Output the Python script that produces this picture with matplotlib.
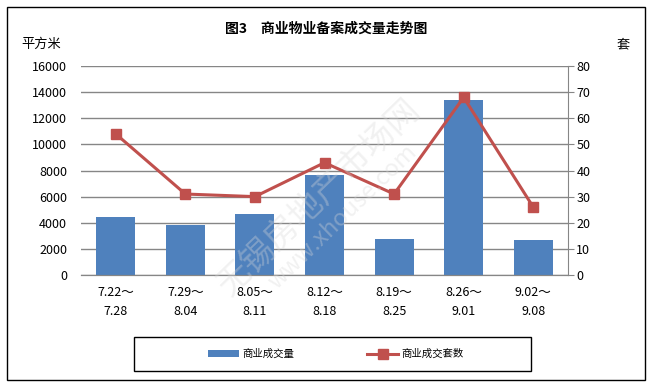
import matplotlib
matplotlib.use('Agg')
from matplotlib import pyplot as plt
from matplotlib.patches import Rectangle
import numpy as np

plt.rcParams['font.family'] = ['Noto Sans CJK SC', 'DejaVu Sans']

weeks = ['7.22～\n7.28', '7.29～\n8.04', '8.05～\n8.11', '8.12～\n8.18',
         '8.19～\n8.25', '8.26～\n9.01', '9.02～\n9.08']
area = [4450, 3850, 4680, 7650, 2760, 13400, 2690]
units = [54, 31, 30, 43, 31, 68, 26]

bar_color = '#4F81BD'
line_color = '#C0504D'
grid_color = '#868686'

fig = plt.figure(figsize=(6.52, 3.87), dpi=100)
ax = fig.add_axes([0.1242, 0.2894, 0.747, 0.540])
ax2 = ax.twinx()

x = np.arange(len(weeks))
bars = ax.bar(x, area, width=0.56, color=bar_color, zorder=2, label='商业成交量')
ax.set_xlim(-0.5, len(weeks) - 0.5)
ax.set_ylim(0, 16000)
ax.set_yticks(np.arange(0, 16001, 2000))
ax.yaxis.grid(True, color=grid_color, linewidth=1)
ax.set_axisbelow(True)
ax.set_xticks(x)
ax.set_xticklabels(weeks, fontsize=9, linespacing=1.6)
ax.tick_params(axis='x', length=0, pad=8)
ax.tick_params(axis='y', length=0, labelsize=9, pad=10)

line, = ax2.plot(x, units, color=line_color, linewidth=2.2, marker='s',
                 markersize=7, label='商业成交套数', zorder=3)
ax2.set_ylim(0, 80)
ax2.set_yticks(np.arange(0, 81, 10))
ax2.tick_params(axis='y', length=4, color=grid_color, labelsize=9, pad=2)

for a in (ax, ax2):
    for s in ('top', 'left'):
        a.spines[s].set_visible(False)
    a.spines['bottom'].set_color(grid_color)
    a.spines['right'].set_color(grid_color)
ax.spines['right'].set_visible(False)

fig.text(0.5, 0.925, '图3　商业物业备案成交量走势图', ha='center', va='center',
         fontsize=10, fontweight='bold')
fig.text(0.032, 0.885, '平方米', ha='left', va='center', fontsize=9.5)
fig.text(0.945, 0.885, '套', ha='left', va='center', fontsize=9.5)

# watermark
fig.text(0.49, 0.49, '无锡房地产市场网', rotation=44, ha='center', va='center',
         fontsize=24, color='#d8d8d8', alpha=0.35, zorder=5)
fig.text(0.525, 0.44, 'www.xhouse.com', rotation=44, ha='center', va='center',
         fontsize=17, color='#d8d8d8', alpha=0.35, zorder=5)

# legend box
fig.patches.append(Rectangle((0.206, 0.041), 0.608, 0.088, transform=fig.transFigure,
                             fill=False, edgecolor='black', linewidth=1))
fig.legend([bars, line], ['商业成交量', '商业成交套数'], loc='center',
           bbox_to_anchor=(0.515, 0.085), ncol=2, frameon=False, fontsize=7.5,
           columnspacing=7, handlelength=3, handletextpad=0.3)

# outer border
fig.patches.append(Rectangle((0.011, 0.018), 0.978, 0.964, transform=fig.transFigure,
                             fill=False, edgecolor='black', linewidth=1))

fig.savefig('out.png', dpi=100)
